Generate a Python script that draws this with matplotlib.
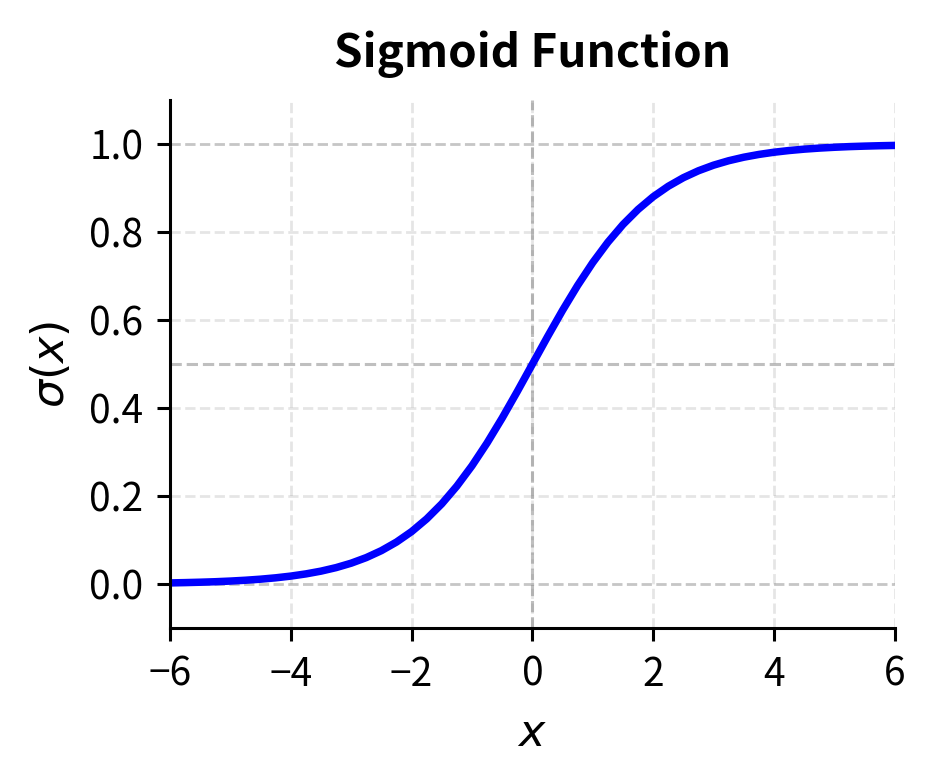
import matplotlib
matplotlib.use("Agg")
import matplotlib.pyplot as plt

plt.rcParams['font.family'] = ['Noto Sans CJK JP', 'DejaVu Sans']

x_vals = [-6.0, -5.75, -5.5, -5.25, -5.0, -4.75, -4.5, -4.25, -4.0, -3.75, -3.5, -3.25,
          -3.0, -2.75, -2.5, -2.25, -2.0, -1.75, -1.5, -1.25, -1.0, -0.75, -0.5, -0.25,
          0.0, 0.25, 0.5, 0.75, 1.0, 1.25, 1.5, 1.75, 2.0, 2.25, 2.5, 2.75,
          3.0, 3.25, 3.5, 3.75, 4.0, 4.25, 4.5, 4.75, 5.0, 5.25, 5.5, 5.75, 6.0]
y_vals = [0.0025, 0.0032, 0.0041, 0.0052, 0.0067, 0.0086, 0.0110, 0.0141, 0.0180, 0.0230, 0.0293, 0.0373,
          0.0474, 0.0601, 0.0759, 0.0954, 0.1192, 0.1481, 0.1824, 0.2227, 0.2689, 0.3208, 0.3775, 0.4378,
          0.5000, 0.5622, 0.6225, 0.6792, 0.7311, 0.7773, 0.8176, 0.8519, 0.8808, 0.9046, 0.9241, 0.9399,
          0.9526, 0.9627, 0.9707, 0.9770, 0.9820, 0.9859, 0.9890, 0.9914, 0.9933, 0.9948, 0.9959, 0.9968, 0.9975]

x_ticks = [-6, -4, -2, 0, 2, 4, 6]
y_ticks = [0.0, 0.2, 0.4, 0.6, 0.8, 1.0]

fig = plt.figure(figsize=(4.67, 3.92), dpi=200)
ax = fig.add_axes([0.182, 0.199, 0.776, 0.673])

ax.grid(True, linestyle='--', color='gray', alpha=0.2, linewidth=1.0)
ax.axhline(0, color='gray', alpha=0.3, linestyle='--', linewidth=1.0)
ax.axhline(1, color='gray', alpha=0.3, linestyle='--', linewidth=1.0)
ax.axhline(0.5, color='gray', alpha=0.5, linestyle='--', linewidth=1.1)
ax.axvline(0, color='gray', alpha=0.5, linestyle='--', linewidth=1.1)

ax.plot(x_vals, y_vals, color='blue', linewidth=2.7)

ax.set_xlim(-6, 6)
ax.set_ylim(-0.1, 1.1)
ax.set_xticks(x_ticks)
ax.set_yticks(y_ticks)
ax.set_yticklabels([f"{v:.1f}" for v in y_ticks])
ax.tick_params(labelsize=14, length=4.8, width=1.1, pad=4.8)

for s in ['left', 'bottom']:
    ax.spines[s].set_linewidth(1.1)
ax.spines['top'].set_visible(False)
ax.spines['right'].set_visible(False)

ax.set_xlabel(r'$x$', fontsize=16, labelpad=5.5)
ax.set_ylabel(r'$\sigma(x)$', fontsize=16, labelpad=5.5)
ax.set_title('Sigmoid Function', fontsize=16.5, fontweight='bold', pad=12)

fig.savefig('out.png', dpi=200)
